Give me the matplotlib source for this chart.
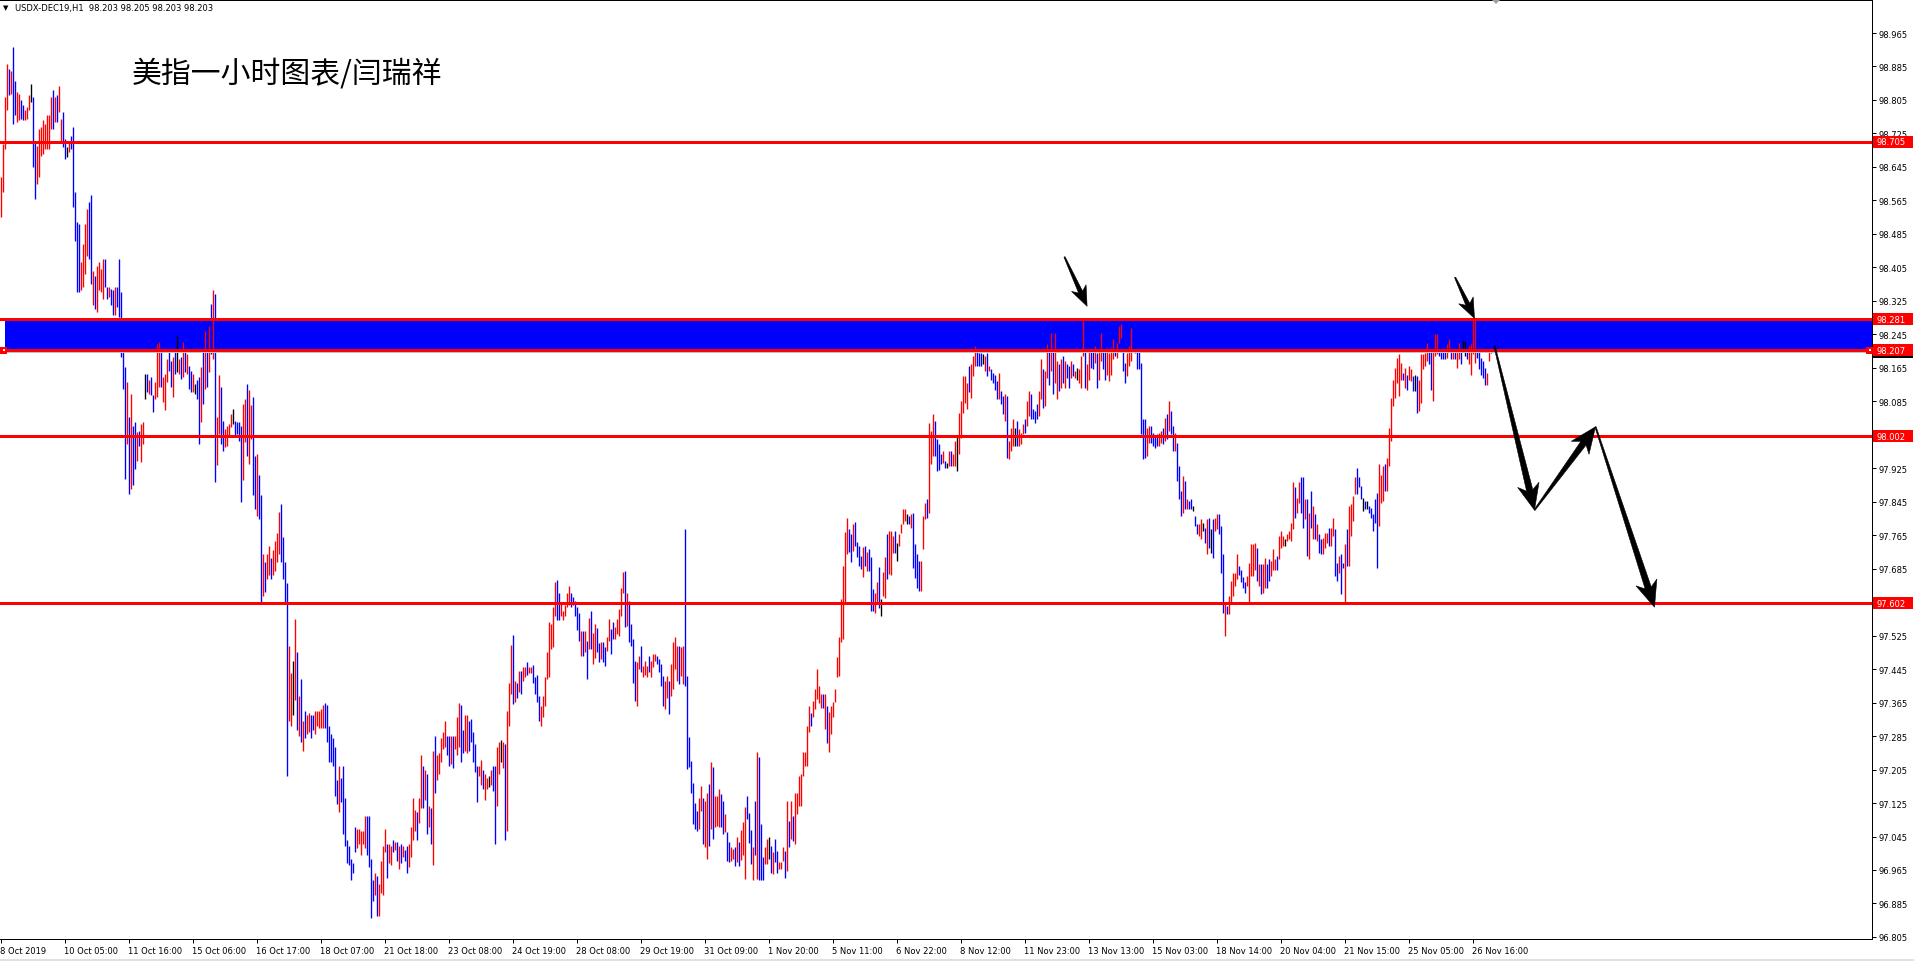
import numpy as np
import matplotlib
matplotlib.use("Agg")
import matplotlib.pyplot as plt
from matplotlib.patches import Rectangle, Polygon
from matplotlib.transforms import blended_transform_factory

# H1 bars of USDX-DEC19 (high, low, bar direction u/d/n)
# 8 Oct - 16 Oct
hi_a = [98.620, 98.700, 98.812, 98.891, 98.879, 98.875, 98.931, 98.851, 98.824, 98.820,
        98.804, 98.792, 98.780, 98.788, 98.816, 98.843, 98.812, 98.708, 98.696, 98.736,
        98.740, 98.756, 98.748, 98.768, 98.768, 98.812, 98.828, 98.812, 98.816, 98.839,
        98.760, 98.776, 98.712, 98.692, 98.704, 98.720, 98.740, 98.585, 98.513, 98.509,
        98.417, 98.461, 98.509, 98.545, 98.561, 98.577, 98.397, 98.385, 98.409, 98.417,
        98.401, 98.425, 98.425, 98.358, 98.358, 98.354, 98.350, 98.358, 98.358, 98.425,
        98.346, 98.206, 98.166, 98.131, 98.047, 98.103, 98.027, 98.035, 98.011, 98.015,
        98.031, 98.035, 98.151, 98.151, 98.135, 98.143, 98.099, 98.131, 98.222, 98.226,
        98.210, 98.143, 98.151, 98.186, 98.206, 98.182, 98.190, 98.206, 98.242, 98.186,
        98.190, 98.226, 98.210, 98.198, 98.170, 98.158, 98.151, 98.127, 98.135, 98.143,
        98.166, 98.234, 98.254, 98.234, 98.266, 98.318, 98.350, 98.342, 98.047, 98.147,
        98.119, 98.039, 98.019, 98.027, 98.031, 98.055, 98.067, 98.039, 98.035, 98.035,
        98.027, 98.079, 98.091, 98.127, 98.111, 98.075, 98.095, 97.955, 97.959, 97.908]
lo_a = [98.525, 98.585, 98.688, 98.780, 98.816, 98.820, 98.748, 98.768, 98.752, 98.756,
        98.760, 98.756, 98.756, 98.760, 98.780, 98.800, 98.644, 98.569, 98.605, 98.620,
        98.672, 98.676, 98.688, 98.688, 98.688, 98.736, 98.736, 98.752, 98.752, 98.776,
        98.708, 98.692, 98.664, 98.668, 98.680, 98.688, 98.549, 98.469, 98.346, 98.346,
        98.350, 98.358, 98.389, 98.433, 98.425, 98.366, 98.314, 98.306, 98.298, 98.350,
        98.346, 98.330, 98.358, 98.330, 98.334, 98.314, 98.290, 98.290, 98.310, 98.286,
        98.190, 98.115, 97.900, 97.983, 97.864, 97.876, 97.884, 97.924, 97.943, 97.979,
        97.939, 97.983, 98.091, 98.107, 98.103, 98.099, 98.059, 98.091, 98.095, 98.119,
        98.119, 98.083, 98.063, 98.131, 98.158, 98.119, 98.095, 98.151, 98.155, 98.151,
        98.139, 98.143, 98.155, 98.151, 98.115, 98.107, 98.107, 98.103, 98.091, 97.983,
        98.035, 98.079, 98.115, 98.119, 98.155, 98.198, 98.186, 97.892, 97.932, 98.007,
        97.983, 97.967, 97.975, 97.979, 97.999, 98.023, 98.031, 97.999, 98.007, 97.991,
        97.844, 97.896, 97.987, 97.955, 97.935, 97.995, 97.860, 97.828, 97.812, 97.804]
dir_a = ("uuuududduu" "dduuundduu" "uuuuuududu" "uddnuddddd" "uuuudduduu" "uudduddudd"
         "dddududdud" "uundudduuu" "duuuddudnu" "dududdundd" "ududududuu" "dduuuunddd"
         "duuduuddud")

# 16 Oct - 18 Oct
hi_b = [97.86, 97.72, 97.70, 97.72, 97.74, 97.71, 97.73, 97.75, 97.77, 97.82,
        97.84, 97.76, 97.70, 97.65, 97.50]
lo_b = [97.60, 97.62, 97.63, 97.66, 97.67, 97.66, 97.67, 97.68, 97.70, 97.72,
        97.70, 97.66, 97.60, 97.19, 97.32]
dir_b = "duduuduuuuddddu"

# 18 Oct - 30 Oct
hi_c = [97.436, 97.464, 97.565, 97.487, 97.381, 97.421, 97.320, 97.345, 97.335, 97.340,
        97.335, 97.335, 97.345, 97.345, 97.345, 97.350, 97.360, 97.365, 97.360, 97.310,
        97.290, 97.280, 97.260, 97.179, 97.214, 97.184, 97.214, 97.138, 97.037, 97.022,
        96.992, 96.982, 97.068, 97.063, 97.063, 97.058, 97.058, 97.093, 97.093, 97.093,
        96.992, 96.941, 96.957, 96.951, 96.931, 96.987, 97.022, 97.063, 97.027, 97.027,
        97.022, 97.037, 97.032, 97.032, 97.022, 97.027, 97.022, 97.012, 97.022, 97.027,
        97.068, 97.138, 97.108, 97.103, 97.138, 97.240, 97.214, 97.204, 97.194, 97.118,
        97.113, 97.250, 97.285, 97.240, 97.245, 97.280, 97.295, 97.320, 97.285, 97.285,
        97.285, 97.285, 97.285, 97.330, 97.365, 97.360, 97.300, 97.335, 97.335, 97.320,
        97.325, 97.295, 97.265, 97.214, 97.214, 97.229, 97.204, 97.194, 97.184, 97.189,
        97.204, 97.214, 97.214, 97.260, 97.270, 97.275, 97.270, 97.265, 97.345, 97.411,
        97.502, 97.527, 97.416, 97.411, 97.441, 97.441, 97.451, 97.451, 97.462, 97.451,
        97.451, 97.456, 97.426, 97.431, 97.381, 97.356, 97.381, 97.426, 97.487, 97.558,
        97.553, 97.593, 97.653, 97.658, 97.628, 97.603, 97.583, 97.598, 97.628, 97.643,
        97.628, 97.618, 97.608, 97.593, 97.578, 97.537, 97.537, 97.537, 97.512, 97.568,
        97.583, 97.532, 97.553, 97.543, 97.507]
lo_c = [97.310, 97.335, 97.371, 97.300, 97.285, 97.270, 97.250, 97.280, 97.290, 97.295,
        97.280, 97.300, 97.290, 97.310, 97.305, 97.305, 97.305, 97.305, 97.270, 97.224,
        97.224, 97.214, 97.143, 97.123, 97.103, 97.128, 97.052, 97.022, 96.982, 96.977,
        96.941, 96.957, 97.007, 97.017, 97.027, 97.002, 97.027, 97.017, 97.002, 96.972,
        96.850, 96.891, 96.906, 96.856, 96.856, 96.911, 96.906, 97.007, 96.947, 96.982,
        96.977, 97.007, 97.012, 96.987, 96.967, 96.982, 96.997, 96.987, 96.957, 96.972,
        96.997, 97.037, 97.058, 97.037, 97.078, 97.113, 97.113, 97.133, 97.052, 97.068,
        97.027, 96.977, 97.148, 97.179, 97.194, 97.224, 97.255, 97.260, 97.240, 97.214,
        97.219, 97.209, 97.255, 97.240, 97.260, 97.224, 97.244, 97.250, 97.244, 97.250,
        97.270, 97.224, 97.199, 97.128, 97.189, 97.169, 97.159, 97.133, 97.159, 97.164,
        97.169, 97.153, 97.027, 97.118, 97.194, 97.224, 97.209, 97.037, 97.057, 97.310,
        97.386, 97.361, 97.366, 97.376, 97.391, 97.386, 97.416, 97.426, 97.431, 97.436,
        97.436, 97.411, 97.386, 97.366, 97.320, 97.310, 97.330, 97.356, 97.421, 97.426,
        97.492, 97.497, 97.573, 97.563, 97.563, 97.573, 97.563, 97.573, 97.593, 97.598,
        97.593, 97.598, 97.573, 97.538, 97.512, 97.477, 97.477, 97.487, 97.421, 97.492,
        97.492, 97.457, 97.472, 97.487, 97.462]
dir_c = ("unudududuu" "dduuuuuddd" "dddduddddd" "ddduuuuudd" "dduduuuudu" "ududududdu"
         "uuuduududu" "duduuuuudd" "uduuudduud" "dddduuduun" "udduunuduu" "udududuudu"
         "udddduuuuu" "uuudduuuuu" "dddddududu" "duudd")

# 30 Oct - 8 Nov
hi_d = [97.509, 97.509, 97.497, 97.521, 97.565, 97.541, 97.557, 97.545, 97.565, 97.588,
        97.640, 97.676, 97.680, 97.628, 97.608, 97.553, 97.517, 97.465, 97.461, 97.477,
        97.501, 97.453, 97.465, 97.453, 97.477, 97.465, 97.481, 97.481, 97.477, 97.469,
        97.457, 97.429, 97.417, 97.429, 97.417, 97.457, 97.509, 97.521, 97.501, 97.501,
        97.497, 97.500, 97.780, 97.429, 97.282, 97.226, 97.174, 97.126, 97.106, 97.138,
        97.166, 97.138, 97.130, 97.150, 97.170, 97.222, 97.210, 97.142, 97.142, 97.158,
        97.146, 97.130, 97.099, 97.055, 97.031, 97.019, 97.015, 97.019, 97.043, 97.031,
        97.060, 97.080, 97.115, 97.142, 97.100, 97.060, 97.020, 97.130, 97.246, 97.234,
        97.075, 96.995, 97.019, 97.039, 97.043, 97.023, 97.007, 97.039, 97.011, 96.983,
        96.983, 97.019, 97.011, 97.130, 97.083, 97.130, 97.095, 97.150, 97.150, 97.190,
        97.194, 97.246, 97.246, 97.310, 97.358, 97.340, 97.370, 97.397, 97.445, 97.405,
        97.385, 97.385, 97.385, 97.358, 97.342, 97.358, 97.366, 97.397, 97.473, 97.521,
        97.612, 97.692, 97.772, 97.807, 97.780, 97.767, 97.791, 97.796, 97.748, 97.740,
        97.716, 97.736, 97.740, 97.724, 97.732, 97.712, 97.636, 97.628, 97.652, 97.688,
        97.612, 97.676, 97.712, 97.768, 97.775]
lo_d = [97.469, 97.461, 97.453, 97.489, 97.513, 97.481, 97.517, 97.517, 97.529, 97.525,
        97.573, 97.628, 97.545, 97.549, 97.509, 97.501, 97.413, 97.369, 97.357, 97.445,
        97.437, 97.425, 97.430, 97.425, 97.437, 97.425, 97.449, 97.465, 97.457, 97.437,
        97.405, 97.357, 97.349, 97.377, 97.337, 97.381, 97.397, 97.445, 97.417, 97.409,
        97.429, 97.410, 97.405, 97.206, 97.210, 97.150, 97.075, 97.063, 97.059, 97.063,
        97.106, 97.027, 97.019, 96.991, 97.023, 97.063, 97.039, 97.067, 97.071, 97.067,
        97.067, 97.051, 97.055, 96.987, 96.983, 96.987, 96.991, 96.975, 96.983, 96.975,
        96.990, 97.000, 96.943, 97.087, 97.030, 96.980, 96.940, 97.000, 96.943, 96.940,
        96.940, 96.940, 96.979, 96.979, 96.991, 96.959, 96.955, 96.983, 96.959, 96.967,
        96.967, 96.987, 96.947, 96.963, 97.019, 97.039, 97.035, 97.027, 97.099, 97.118,
        97.118, 97.190, 97.214, 97.214, 97.294, 97.310, 97.330, 97.350, 97.373, 97.365,
        97.353, 97.353, 97.302, 97.268, 97.246, 97.290, 97.330, 97.366, 97.425, 97.429,
        97.509, 97.518, 97.602, 97.720, 97.724, 97.700, 97.728, 97.740, 97.712, 97.692,
        97.684, 97.664, 97.692, 97.680, 97.680, 97.584, 97.584, 97.580, 97.604, 97.592,
        97.572, 97.620, 97.616, 97.660, 97.672]
dir_d = ("udduudduuu" "uududddduu" "duuuduuudd" "dduuduuuud" "uudddddddu" "uduududuuu"
         "ddudduudud" "uuudddudud" "dduunduddu" "uudududuuu" "uuuuuduuuu" "ududuuuuuu"
         "uuuudduddd" "dududdduud" "nuudu")

# 8 Nov - 19 Nov
hi_e = [97.775, 97.763, 97.775, 97.747, 97.767, 97.791, 97.827, 97.827, 97.815, 97.811,
        97.815, 97.819, 97.743, 97.719, 97.703, 97.703, 97.811, 97.843, 97.851, 98.034,
        98.014, 98.054, 98.038, 97.994, 97.982, 97.958, 97.966, 97.942, 97.938, 97.966,
        97.966, 97.958, 97.990, 98.002, 98.058, 98.086, 98.145, 98.145, 98.129, 98.169,
        98.173, 98.193, 98.217, 98.209, 98.201, 98.201, 98.197, 98.193, 98.201, 98.169,
        98.161, 98.153, 98.149, 98.133, 98.153, 98.109, 98.098, 98.102, 98.098, 97.990,
        98.022, 98.042, 98.022, 98.038, 98.018, 98.010, 98.030, 98.042, 98.086, 98.109,
        98.102, 98.066, 98.062, 98.078, 98.109, 98.185, 98.161, 98.157, 98.221, 98.209,
        98.249, 98.205, 98.249, 98.181, 98.173, 98.185, 98.193, 98.181, 98.173, 98.169,
        98.181, 98.173, 98.157, 98.165, 98.161, 98.193, 98.277, 98.209, 98.173, 98.205,
        98.205, 98.209, 98.217, 98.201, 98.209, 98.249, 98.213, 98.205, 98.213, 98.201,
        98.213, 98.233, 98.209, 98.225, 98.265, 98.269, 98.205, 98.177, 98.201, 98.217,
        98.261, 98.213, 98.209, 98.209, 98.209, 98.177, 98.042, 98.042, 98.022, 98.026,
        98.026, 98.010, 98.002, 98.006, 98.010, 98.014, 98.022, 98.046, 98.054, 98.086,
        98.062, 98.026, 98.010, 97.986, 97.930, 97.871, 97.906, 97.894, 97.851, 97.847,
        97.851, 97.835, 97.811, 97.791, 97.791]
lo_e = [97.671, 97.723, 97.723, 97.703, 97.739, 97.771, 97.791, 97.799, 97.791, 97.791,
        97.783, 97.687, 97.663, 97.640, 97.632, 97.632, 97.731, 97.803, 97.807, 97.819,
        97.934, 97.954, 97.954, 97.918, 97.922, 97.934, 97.938, 97.926, 97.926, 97.930,
        97.930, 97.930, 97.930, 97.918, 97.958, 97.998, 98.058, 98.082, 98.066, 98.106,
        98.094, 98.145, 98.169, 98.169, 98.169, 98.169, 98.173, 98.157, 98.145, 98.157,
        98.137, 98.129, 98.113, 98.090, 98.090, 98.078, 98.054, 98.038, 97.950, 97.946,
        97.966, 97.978, 97.978, 97.978, 97.978, 97.982, 98.006, 98.010, 98.026, 98.050,
        98.042, 98.042, 98.034, 98.042, 98.050, 98.090, 98.070, 98.074, 98.141, 98.125,
        98.157, 98.102, 98.129, 98.090, 98.109, 98.117, 98.129, 98.117, 98.141, 98.117,
        98.141, 98.145, 98.141, 98.137, 98.129, 98.117, 98.193, 98.117, 98.113, 98.137,
        98.165, 98.161, 98.177, 98.117, 98.137, 98.181, 98.161, 98.137, 98.149, 98.133,
        98.149, 98.185, 98.193, 98.189, 98.225, 98.237, 98.157, 98.129, 98.145, 98.169,
        98.181, 98.205, 98.201, 98.161, 98.161, 98.006, 97.946, 97.950, 97.954, 97.986,
        97.986, 97.978, 97.974, 97.978, 97.978, 97.986, 97.982, 97.990, 97.994, 98.014,
        98.006, 97.966, 97.966, 97.894, 97.851, 97.811, 97.819, 97.827, 97.827, 97.827,
        97.827, 97.823, 97.787, 97.767, 97.763]
dir_e = ("uudnuuuund" "udddduuudu" "uuddddudnu" "duunuuuuud" "uuudddnudu" "dddduddudu"
         "uunduuuduu" "dddduuduud" "uduudududd" "udunuuuduu" "dduduudduu" "uuduuudduu"
         "uddddddduu" "dddduududu" "ddudddudud" "dnddu")

# 19 Nov - 26 Nov
hi_f = [97.803, 97.795, 97.783, 97.803, 97.807, 97.779, 97.803, 97.807, 97.815, 97.815,
        97.787, 97.719, 97.604, 97.596, 97.620, 97.656, 97.675, 97.675, 97.719, 97.691,
        97.683, 97.664, 97.652, 97.667, 97.699, 97.743, 97.743, 97.747, 97.735, 97.695,
        97.695, 97.695, 97.711, 97.695, 97.707, 97.703, 97.731, 97.707, 97.715, 97.763,
        97.775, 97.763, 97.755, 97.767, 97.775, 97.795, 97.891, 97.879, 97.855, 97.891,
        97.903, 97.903, 97.851, 97.851, 97.819, 97.871, 97.835, 97.815, 97.791, 97.767,
        97.755, 97.759, 97.771, 97.771, 97.783, 97.783, 97.807, 97.779, 97.699, 97.715,
        97.719, 97.699, 97.743, 97.779, 97.835, 97.839, 97.859, 97.903, 97.926, 97.903,
        97.883, 97.855, 97.847, 97.847, 97.835, 97.831, 97.815, 97.851, 97.867, 97.934,
        97.910, 97.930, 97.934, 97.950, 98.022, 98.094, 98.137, 98.165, 98.189, 98.197,
        98.177, 98.153, 98.165, 98.149, 98.169, 98.161, 98.145, 98.149, 98.145, 98.137,
        98.197, 98.197, 98.201, 98.225, 98.205, 98.205, 98.205, 98.245, 98.245, 98.209,
        98.209, 98.209, 98.209, 98.221, 98.233, 98.213, 98.205, 98.209, 98.209, 98.225,
        98.217, 98.229, 98.229, 98.209, 98.217, 98.221, 98.281, 98.281, 98.209, 98.205,
        98.189, 98.181, 98.165, 98.153, 98.205, 98.209, 98.213]
lo_f = [97.755, 97.775, 97.747, 97.719, 97.735, 97.723, 97.711, 97.775, 97.779, 97.767,
        97.675, 97.580, 97.524, 97.576, 97.576, 97.604, 97.620, 97.644, 97.660, 97.671,
        97.652, 97.640, 97.628, 97.644, 97.604, 97.667, 97.667, 97.683, 97.656, 97.644,
        97.624, 97.628, 97.640, 97.640, 97.656, 97.667, 97.683, 97.683, 97.683, 97.707,
        97.735, 97.739, 97.739, 97.751, 97.755, 97.751, 97.779, 97.807, 97.819, 97.843,
        97.819, 97.783, 97.803, 97.715, 97.707, 97.783, 97.755, 97.755, 97.751, 97.723,
        97.719, 97.719, 97.735, 97.747, 97.739, 97.739, 97.763, 97.667, 97.656, 97.675,
        97.624, 97.687, 97.604, 97.691, 97.691, 97.763, 97.799, 97.863, 97.863, 97.879,
        97.851, 97.823, 97.827, 97.827, 97.819, 97.807, 97.775, 97.795, 97.687, 97.787,
        97.843, 97.847, 97.871, 97.870, 97.930, 97.990, 98.074, 98.094, 98.129, 98.098,
        98.137, 98.137, 98.117, 98.113, 98.137, 98.133, 98.109, 98.109, 98.058, 98.062,
        98.082, 98.161, 98.169, 98.181, 98.173, 98.113, 98.086, 98.193, 98.197, 98.193,
        98.185, 98.185, 98.185, 98.189, 98.205, 98.185, 98.185, 98.185, 98.165, 98.185,
        98.173, 98.205, 98.193, 98.185, 98.173, 98.149, 98.197, 98.177, 98.189, 98.161,
        98.149, 98.141, 98.125, 98.125, 98.181, 98.201, 98.205]
dir_f = ("undudnduud" "dduduuuuud" "ddduuuuudu" "duudduuudu" "uunuuuuduu" "ddudududud"
         "duuuduuddu" "dduduuuudd" "dndndddddu" "uuduuuuuuu" "ududuudndu" "uuuudduuud"
         "ddduududuu" "dnnduuuudd" "ddduudd")

date_labels = ["8 Oct 2019", "10 Oct 05:00", "11 Oct 16:00", "15 Oct 06:00", "16 Oct 17:00",
               "18 Oct 07:00", "21 Oct 18:00", "23 Oct 08:00", "24 Oct 19:00", "28 Oct 08:00",
               "29 Oct 19:00", "31 Oct 09:00", "1 Nov 20:00", "5 Nov 11:00", "6 Nov 22:00",
               "8 Nov 12:00", "11 Nov 23:00", "13 Nov 13:00", "15 Nov 03:00", "18 Nov 14:00",
               "20 Nov 04:00", "21 Nov 15:00", "25 Nov 05:00", "26 Nov 16:00"]
bars_per_label = 32
price_ticks = [round(96.805 + 0.08 * k, 3) for k in range(28)]

levels = [98.705, 98.281, 98.207, 98.002, 97.602]
zone = (98.207, 98.281)
bid = 98.203
header = "USDX-DEC19,H1  98.203 98.205 98.203 98.203"
title = "美指一小时图表/闫瑞祥"

# hand-drawn arrows: (bar index, price) points
arrow_paths = [[(532.0, 98.430), (543.3, 98.312)],
               [(727.3, 98.381), (737.0, 98.283)],
               [(747.0, 98.217), (767.0, 97.825), (797.5, 98.024), (827.0, 97.593)]]

highs = np.array(hi_a + hi_b + hi_c + hi_d + hi_e + hi_f)
lows = np.array(lo_a + lo_b + lo_c + lo_d + lo_e + lo_f)
dirs = dir_a + dir_b + dir_c + dir_d + dir_e + dir_f
n = min(len(highs), len(lows), len(dirs))
highs, lows, dirs = highs[:n], lows[:n], dirs[:n]
colmap = {"u": "#FF0000", "d": "#0000FF", "n": "#000000"}
cols = [colmap[c] for c in dirs]

W, H = 1915, 962
PX = 0.72  # one pixel in points at dpi 100
fig = plt.figure(figsize=(W / 100, H / 100), dpi=100)
fig.patch.set_facecolor("white")
ax = fig.add_axes([0, (H - 940) / H, 1872 / W, 939 / H])
ax.set_facecolor("white")
ax.set_xlim(-0.25, 935.75)
ax.set_ylim(96.8001, 99.0439)

for s in ["top", "right", "bottom"]:
    ax.spines[s].set_color("black")
    ax.spines[s].set_linewidth(PX)
ax.spines["left"].set_visible(False)

# support/resistance zone
ax.add_patch(Rectangle((2, zone[0]), 935.75 - 2, zone[1] - zone[0],
                       facecolor="#0000FF", edgecolor="none", zorder=1))

# bars
x = np.arange(n)
ax.vlines(x, lows, highs, colors=cols, linewidth=1.35 * PX, zorder=2)

ax.axhline(bid, color="#C0C0C0", lw=PX, zorder=2.5)
for lv in levels:
    ax.axhline(lv, color="#FF0000", lw=3 * PX, zorder=3)

# x axis
ax.set_xticks([bars_per_label * k for k in range(len(date_labels))])
ax.set_xticklabels(date_labels, fontsize=6, family="DejaVu Sans")
for lab in ax.get_xticklabels():
    lab.set_ha("left")
ax.tick_params(axis="x", direction="out", length=3, width=PX, pad=2, colors="black")

# y axis on the right
ax.yaxis.tick_right()
ax.set_yticks(price_ticks)
ax.set_yticklabels(["%.3f" % v for v in price_ticks], fontsize=6, family="DejaVu Sans")
ax.tick_params(axis="y", direction="out", length=3, width=PX, pad=1.5, colors="black")

# price labels of the drawn levels
bt = blended_transform_factory(fig.transFigure, ax.transData)
box_h = 12 / 418.5
ax.add_patch(Rectangle((1873 / W, bid - box_h / 2), 40 / W, box_h, transform=bt,
                       facecolor="black", edgecolor="none", clip_on=False, zorder=7))
for lv in levels:
    ax.add_patch(Rectangle((1873 / W, lv - box_h / 2), 40 / W, box_h, transform=bt,
                           facecolor="#FF0000", edgecolor="none", clip_on=False, zorder=8))
    ax.text(1877 / W, lv, "%.3f" % lv, transform=bt, color="white", fontsize=6,
            va="center", ha="left", family="DejaVu Sans", zorder=9, clip_on=False)

# selection markers on the 98.207 line
for px0 in (0, 1866):
    ax.add_patch(Rectangle((px0 / W, zone[0] - 3.5 / 418.5), 7 / W, 7 / 418.5, transform=bt,
                           facecolor="#FF0000", edgecolor="none", clip_on=False, zorder=8))
    ax.add_patch(Rectangle(((px0 + 3) / W, zone[0] - 1 / 418.5), 2 / W, 2 / 418.5, transform=bt,
                           facecolor="white", edgecolor="none", clip_on=False, zorder=9))


def draw_arrow(tail, tip, head_len, head_half, shaft_half):
    t = ax.transData.transform(tail)
    p = ax.transData.transform(tip)
    d = p - t
    u = d / np.hypot(d[0], d[1])
    nv = np.array([-u[1], u[0]])
    b = p - u * head_len
    j = b + u * head_len * 0.22
    pts = [t + nv * 0.6, j + nv * shaft_half, b + nv * head_half, p,
           b - nv * head_half, j - nv * shaft_half, t - nv * 0.6]
    pts = ax.transData.inverted().transform(np.array(pts))
    ax.add_patch(Polygon(pts, closed=True, facecolor="black", edgecolor="black",
                         lw=0.4, zorder=6, clip_on=False))


for path in arrow_paths:
    big = len(path) > 2
    for a, b in zip(path[:-1], path[1:]):
        if big:
            draw_arrow(a, b, 26, 11, 3.2)
        else:
            draw_arrow(a, b, 20, 8, 2.2)

# header and title
fig.text(3 / W, 1 - 8 / H, "▼", fontsize=5, va="center", ha="left", family="DejaVu Sans")
fig.text(15 / W, 1 - 8 / H, header, fontsize=6, va="center", ha="left", family="DejaVu Sans")
fig.text(132 / W, 1 - 74 / H, title, fontsize=21.5, va="center", ha="left",
         family=["Noto Sans CJK SC", "DejaVu Sans"], fontweight="light")

# chart-shift marker at top and window bottom line
fig.patches.append(Polygon([[1491 / W, 1.0], [1501 / W, 1.0], [1496 / W, 1 - 5 / H]],
                           closed=True, transform=fig.transFigure,
                           facecolor="#A0A0A0", edgecolor="none"))
fig.add_artist(plt.Line2D([0, 1], [1.5 / H, 1.5 / H], transform=fig.transFigure,
                          color="#E0E0E0", lw=2 * PX))

fig.savefig("out.png", dpi=100, facecolor="white")
